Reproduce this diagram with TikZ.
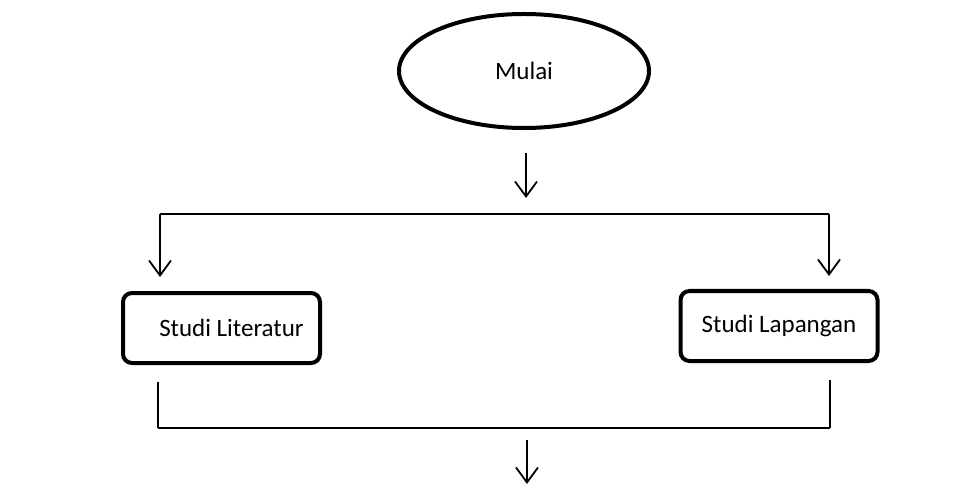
\documentclass[tikz,border=0pt]{standalone}
\usepackage{fontspec}
\setmainfont{Carlito}
\usetikzlibrary{arrows.meta,shapes.geometric}
\tikzset{
  mulaibox/.style={ellipse, draw, line width=4pt, minimum width=250pt, minimum height=114pt, inner sep=0pt},
  studibox/.style={rectangle, rounded corners=9pt, draw, line width=4pt, minimum width=197pt, minimum height=70pt, inner sep=0pt},
  garis/.style={line width=1.8pt},
  panah/.style={line width=1.8pt, -{Straight Barb[length=15pt,width=22pt,line width=1.8pt]}}
}
\begin{document}
\begin{tikzpicture}[x=1pt,y=-1pt,font=\fontsize{25}{30}\selectfont]
  \useasboundingbox (0,0) rectangle (958,486);
  %simpul
  \node[mulaibox] (mulai) at (524,71) {Mulai};
  \node[studibox] (lit) at (221.5,328) {\hspace*{20pt}Studi Literatur};
  \node[studibox] (lap) at (779,326) {Studi Lapangan};
  %titik cabang
  \coordinate (cabang) at (526,214);
  \coordinate (cabangL) at (160,214);
  \coordinate (cabangR) at (829,214);
  \coordinate (gabungL) at (158,428);
  \coordinate (gabungR) at (830,428);
  \coordinate (akhir) at (527,486);
  %panah
  \draw[panah, shorten <=23pt, shorten >=16pt] (mulai.south -| cabang) -- (cabang);
  \draw[garis] (cabangL) -- (cabangR);
  \draw[panah, shorten >=14pt] (cabangL) -- (cabangL |- lit.north);
  \draw[panah, shorten >=13pt] (cabangR) -- (cabangR |- lap.north);
  %gabung
  \draw[garis, shorten <=17pt] (gabungL |- lit.south) -- (gabungL);
  \draw[garis, shorten <=17pt] (gabungR |- lap.south) -- (gabungR);
  \draw[garis] (gabungL) -- (gabungR);
  \draw[panah, shorten <=12pt, shorten >=2pt] (gabungL -| akhir) -- (akhir);
\end{tikzpicture}
\end{document}
